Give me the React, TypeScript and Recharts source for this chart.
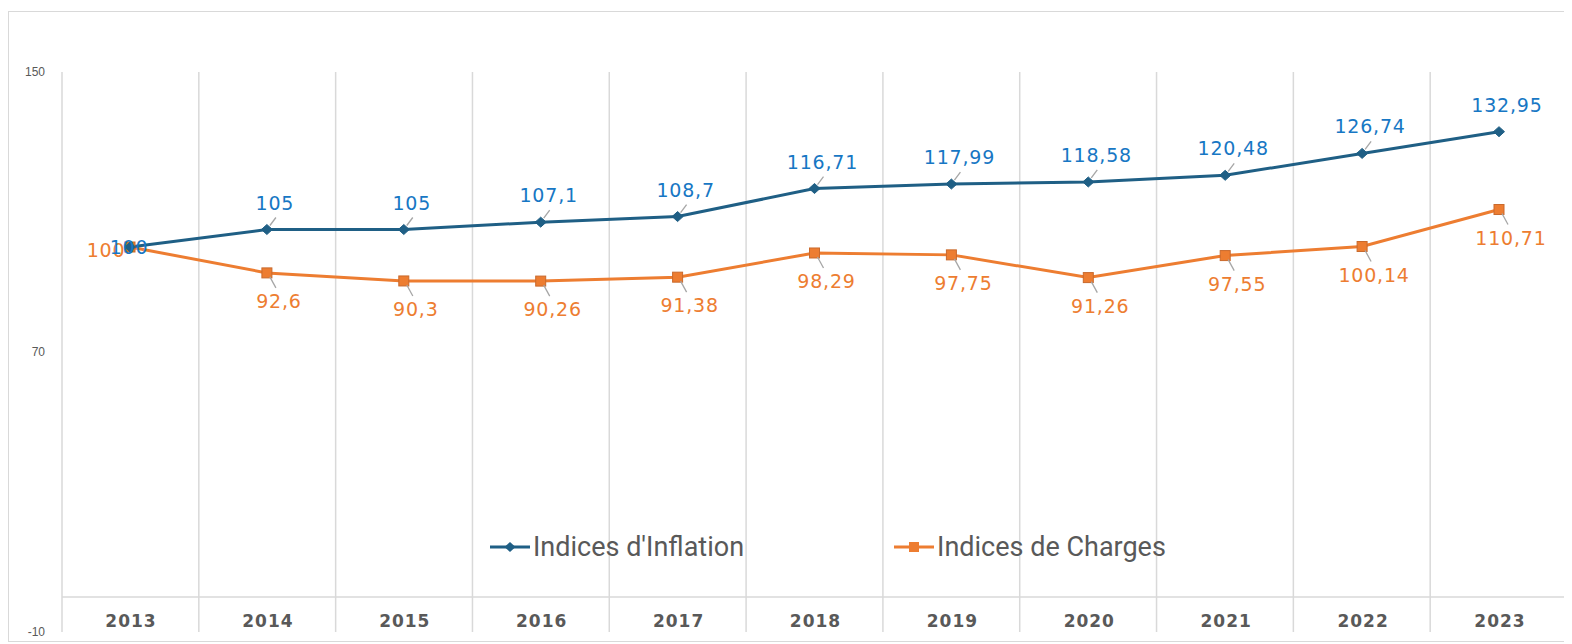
import React from "react";
import { LineChart, Line, XAxis, YAxis, CartesianGrid, ReferenceLine } from "recharts";

const years = ["2013", "2014", "2015", "2016", "2017", "2018", "2019", "2020", "2021", "2022", "2023"];
const inflation = [100, 105, 105, 107.1, 108.7, 116.71, 117.99, 118.58, 120.48, 126.74, 132.95];
const charges = [100, 92.6, 90.3, 90.26, 91.38, 98.29, 97.75, 91.26, 97.55, 100.14, 110.71];
const yTicks = [150, 70, -10];
const seriesNames = ["Indices d'Inflation", "Indices de Charges"];

const data = years.map((y, i) => ({ year: y, inflation: inflation[i], charges: charges[i] }));

const INF_LINE = "#1F5F85";
const INF_LABEL = "#1777C4";
const ORANGE = "#ED7D31";
const GRAY = "#595959";
const LEADER = "#A6A6A6";
const GRID = "#D9D9D9";

const fmt = (v: number) => String(v).replace(".", ",");

const DiamondDot = (p: any) => {
  const { cx, cy } = p;
  if (cx == null || cy == null) return null;
  return <path d={`M${cx - 5.5},${cy} L${cx},${cy - 5} L${cx + 5.5},${cy} L${cx},${cy + 5} Z`} fill={INF_LINE} stroke={INF_LINE} strokeWidth={1} />;
};

const SquareDot = (p: any) => {
  const { cx, cy } = p;
  if (cx == null || cy == null) return null;
  return <rect x={cx - 5} y={cy - 5} width={10} height={10} fill={ORANGE} stroke="#C9692C" strokeWidth={1} />;
};

const labelFont = { fontFamily: "DejaVu Sans, sans-serif", fontSize: 19, letterSpacing: 0.8 };

const InfLabel = (p: any) => {
  const { x, y, value, index } = p;
  if (x == null || y == null) return null;
  if (index === 0) {
    return <text x={x - 1} y={y + 7} textAnchor="middle" fill={INF_LABEL} style={labelFont}>{fmt(value)}</text>;
  }
  const last = index === years.length - 1;
  return (
    <g>
      {!last && <line x1={x + 3} y1={y - 4} x2={x + 9} y2={y - 12} stroke={LEADER} strokeWidth={1.3} />}
      <text x={x + 8} y={y - 20} textAnchor="middle" fill={INF_LABEL} style={labelFont}>{fmt(value)}</text>
    </g>
  );
};

const ChgLabel = (p: any) => {
  const { x, y, value, index } = p;
  if (x == null || y == null) return null;
  if (index === 0) {
    return <text x={x - 24} y={y + 10} textAnchor="middle" fill={ORANGE} style={labelFont}>{fmt(value)}</text>;
  }
  return (
    <g>
      <line x1={x + 3} y1={y + 4} x2={x + 9} y2={y + 15} stroke={LEADER} strokeWidth={1.3} />
      <text x={x + 12} y={y + 35} textAnchor="middle" fill={ORANGE} style={labelFont}>{fmt(value)}</text>
    </g>
  );
};

const XTick = (p: any) => {
  const { x, y, payload } = p;
  return (
    <text x={x + 1} y={y - 5} textAnchor="middle" fill={GRAY}
      style={{ fontFamily: "DejaVu Sans, sans-serif", fontSize: 17, fontWeight: 700, letterSpacing: 1 }}>
      {payload.value}
    </text>
  );
};

const LegendBox = () => {
  const text = { fontFamily: "Roboto, sans-serif", fontSize: 27, color: GRAY, lineHeight: "30px", whiteSpace: "nowrap" as const };
  return (
    <div style={{ position: "absolute", top: 520, left: 481, display: "flex", alignItems: "center", height: 30 }}>
      <svg width={40} height={14} style={{ marginRight: 3 }}>
        <line x1={0} y1={7} x2={40} y2={7} stroke={INF_LINE} strokeWidth={3} />
        <path d="M14.5,7 L20,2 L25.5,7 L20,12 Z" fill={INF_LINE} />
      </svg>
      <span style={text}>{seriesNames[0]}</span>
      <div style={{ width: 150 }} />
      <svg width={40} height={14} style={{ marginRight: 3 }}>
        <line x1={0} y1={7} x2={40} y2={7} stroke={ORANGE} strokeWidth={3} />
        <rect x={15} y={2} width={10} height={10} fill={ORANGE} />
      </svg>
      <span style={text}>{seriesNames[1]}</span>
    </div>
  );
};

export default function App() {
  return (
    <div style={{ marginTop: 3, width: 1560, height: 629, border: `1px solid ${GRID}`, position: "relative", background: "#fff" }}>
      <LineChart width={1560} height={628} data={data} margin={{ top: 60, right: 2, bottom: 7, left: 13 }}>
        <CartesianGrid
          horizontal={false}
          stroke={GRID}
          strokeWidth={1.5}
          verticalCoordinatesGenerator={(props: any) => {
            const o = props.offset;
            return Array.from({ length: years.length + 1 }, (_, i) => o.left + (i * o.width) / years.length);
          }}
        />
        <XAxis
          dataKey="year"
          scale="point"
          padding={{ left: 68, right: 68 }}
          height={1}
          axisLine={false}
          tickLine={false}
          tickSize={0}
          tickMargin={0}
          interval={0}
          tick={<XTick />}
        />
        <YAxis
          domain={[-10, 150]}
          ticks={yTicks}
          width={40}
          axisLine={false}
          tickLine={false}
          tickSize={0}
          tickMargin={17}
          interval={0}
          tick={{ fill: GRAY, fontSize: 12, fontFamily: "Liberation Sans, Arial, sans-serif" }}
        />
        <ReferenceLine y={0} stroke={GRID} strokeWidth={1.5} />
        <Line
          dataKey="charges"
          name={seriesNames[1]}
          stroke={ORANGE}
          strokeWidth={3}
          dot={<SquareDot />}
          activeDot={false}
          label={<ChgLabel />}
          isAnimationActive={false}
        />
        <Line
          dataKey="inflation"
          name={seriesNames[0]}
          stroke={INF_LINE}
          strokeWidth={3}
          dot={<DiamondDot />}
          activeDot={false}
          label={<InfLabel />}
          isAnimationActive={false}
        />
      </LineChart>
      <LegendBox />
    </div>
  );
}
